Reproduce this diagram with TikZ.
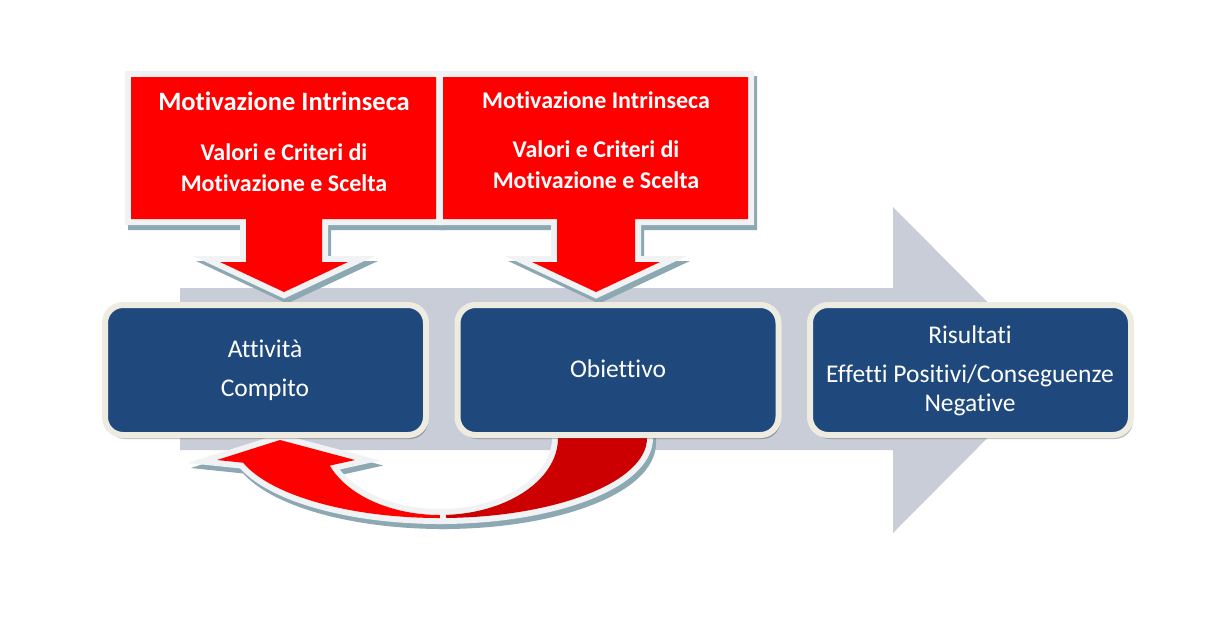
\documentclass[tikz,border=0pt]{standalone}
\usepackage{fontspec}
\setmainfont{Carlito}[Ligatures=NoCommon]
\usetikzlibrary{shadows}
\definecolor{bgarrow}{RGB}{201,205,216}
\definecolor{boxblue}{RGB}{31,73,125}
\definecolor{cream}{RGB}{238,236,225}
\definecolor{pale}{RGB}{240,242,243}
\definecolor{shade}{RGB}{140,168,178}
\definecolor{brightred}{RGB}{255,0,0}
\definecolor{darkred}{RGB}{204,0,0}
\begin{document}
\begin{tikzpicture}[x=1pt,y=-1pt,line join=miter,
  boxstyle/.style={rectangle, rounded corners=18pt, fill=boxblue, draw=cream,
    line width=6pt, minimum width=321pt, minimum height=130pt, inner sep=0pt,
    drop shadow={shadow xshift=2pt, shadow yshift=-4pt, opacity=0.25, fill=black}},
  outl/.style={draw=pale, line width=12pt},
  shad/.style={draw=shade, fill=shade, line width=12pt},
  redtxt/.style={anchor=base, text=white, font=\bfseries\fontsize{24}{29}\selectfont, inner sep=0pt},
  redtitle/.style={redtxt, font=\bfseries\fontsize{#1}{30}\selectfont},
  boxtxt/.style={anchor=base, text=white, font=\fontsize{25.5}{30}\selectfont, inner sep=0pt}]
\useasboundingbox[fill=white] (0,0) rectangle (1215,633);
% background process arrow
\fill[bgarrow] (180,288) -- (893,288) -- (893,207) -- (1055,370) -- (893,533) -- (893,450) -- (180,450) -- cycle;
% callout paths
\def\calloutA{(131,77) -- (436,77) -- (436,219) -- (322,219) -- (322,262) -- (348,262) -- (284,292) -- (220,262) -- (246,262) -- (246,219) -- (131,219) -- cycle}
\def\calloutB{(443,77) -- (748,77) -- (748,219) -- (635,219) -- (635,262) -- (660,262) -- (596,292) -- (532,262) -- (557,262) -- (557,219) -- (443,219) -- cycle}
\begin{scope}[shift={(3,5)}]
  \path[shad] \calloutA;
  \path[shad] \calloutB;
\end{scope}
\path[outl] \calloutA;
\path[outl] \calloutB;
\fill[brightred] \calloutA;
\fill[brightred] \calloutB;
% curved feedback arrow
\def\darkpart{(647,428) -- (647,438) arc[start angle=0, end angle=90, x radius=207, y radius=80] -- (440,515) arc[start angle=90, end angle=0, x radius=118, y radius=77] -- (558,428) -- cycle}
\def\brightpart{(440,518) arc[start angle=90, end angle=162, x radius=207, y radius=80] -- (217,460) -- (280,440) -- (355,460) -- (329.8,465.6) arc[start angle=159, end angle=90, x radius=118, y radius=77] -- cycle}
\begin{scope}[shift={(3,5)}]
  \path[shad] \darkpart;
  \path[shad] \brightpart;
\end{scope}
\path[outl] \darkpart;
\fill[darkred] \darkpart;
\path[outl] \brightpart;
\fill[brightred] \brightpart;
% process boxes
\node[boxstyle] (att) at (265.5,370) {};
\node[boxstyle] (obi) at (618,370) {};
\node[boxstyle] (ris) at (970.5,370) {};
% callout texts
\node[redtitle=26.5] (c1t) at (284,110) {Motivazione Intrinseca};
\node[redtxt] (c1a) at (284,160) {Valori e Criteri di};
\node[redtxt] (c1b) at (284,191) {Motivazione e Scelta};
\node[redtitle=24] (c2t) at (596,108) {Motivazione Intrinseca};
\node[redtxt] (c2a) at (596,157) {Valori e Criteri di};
\node[redtxt] (c2b) at (596,188) {Motivazione e Scelta};
% box texts
\node[boxtxt] (atta) at (265,357) {Attività};
\node[boxtxt] (attb) at (265,396) {Compito};
\node[boxtxt] (obia) at (618,377) {Obiettivo};
\node[boxtxt] (risa) at (970,343) {Risultati};
\node[boxtxt] (risb) at (970,382) {Effetti Positivi/Conseguenze};
\node[boxtxt] (risc) at (970,411) {Negative};
\end{tikzpicture}
\end{document}
